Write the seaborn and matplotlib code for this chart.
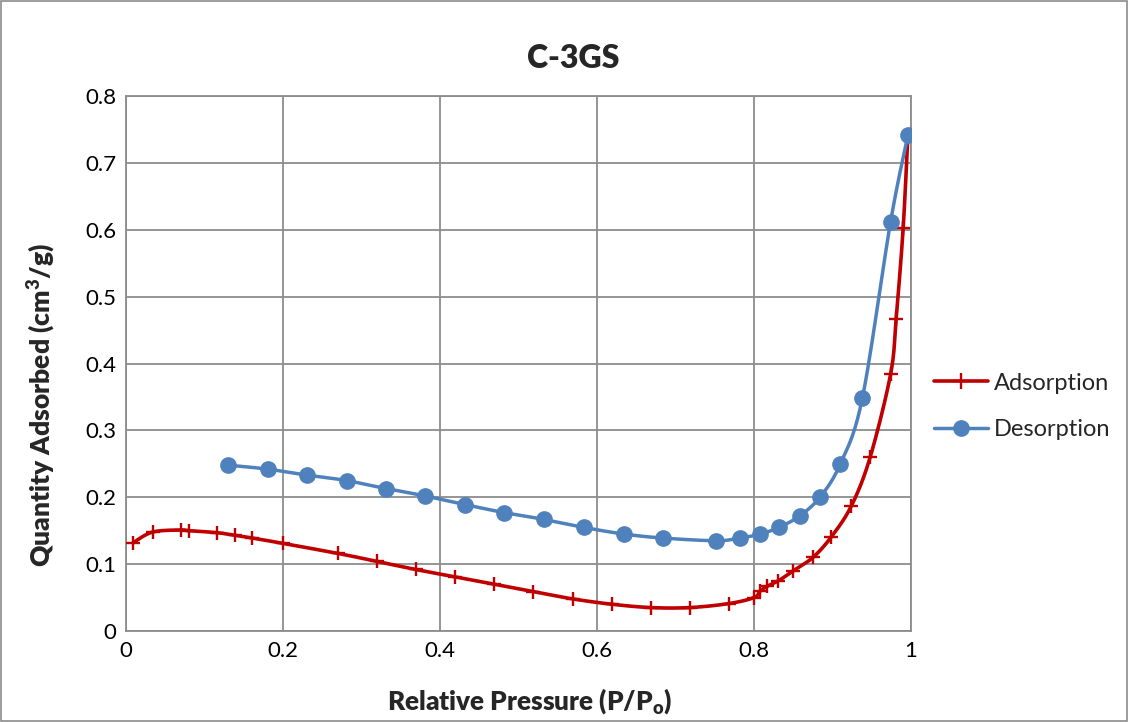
import numpy as np
import pandas as pd
import matplotlib
matplotlib.use('Agg')
import matplotlib.pyplot as plt
import seaborn as sns
from matplotlib.lines import Line2D
from matplotlib.patches import Rectangle

# ---- data ----
ads_p = [0.009, 0.034, 0.070, 0.080, 0.116, 0.139, 0.161, 0.200, 0.270, 0.320,
         0.369, 0.419, 0.469, 0.519, 0.569, 0.619, 0.669, 0.718, 0.768, 0.800,
         0.808, 0.817, 0.831, 0.850, 0.875, 0.898, 0.924, 0.948, 0.974, 0.981,
         0.990, 0.996]
ads_q = [0.132, 0.148, 0.151, 0.150, 0.147, 0.143, 0.139, 0.131, 0.116, 0.104,
         0.092, 0.081, 0.070, 0.059, 0.048, 0.040, 0.035, 0.035, 0.041, 0.050,
         0.060, 0.067, 0.075, 0.090, 0.110, 0.140, 0.187, 0.260, 0.384, 0.466,
         0.602, 0.741]

des_p = [0.996, 0.974, 0.938, 0.910, 0.884, 0.858, 0.832, 0.808, 0.782, 0.752,
         0.684, 0.634, 0.583, 0.532, 0.482, 0.432, 0.381, 0.331, 0.281, 0.231,
         0.181, 0.130]
des_q = [0.741, 0.612, 0.348, 0.250, 0.200, 0.172, 0.155, 0.145, 0.139, 0.135,
         0.139, 0.145, 0.155, 0.167, 0.177, 0.189, 0.202, 0.213, 0.225, 0.233,
         0.242, 0.248]

x_ticks = [0, 0.2, 0.4, 0.6, 0.8, 1]
x_labels = ['0', '0.2', '0.4', '0.6', '0.8', '1']
y_ticks = [0, 0.1, 0.2, 0.3, 0.4, 0.5, 0.6, 0.7, 0.8]
y_labels = ['0', '0.1', '0.2', '0.3', '0.4', '0.5', '0.6', '0.7', '0.8']

RED = '#C00000'
BLUE = '#4F81BD'
GRID = '#8C8C8C'


def smooth(x, y, n=20):
    # Catmull-Rom curve through the points (like Excel "smoothed line")
    p = np.column_stack([x, y]).astype(float)
    p = np.vstack([p[0], p, p[-1]])
    out = []
    t = np.linspace(0, 1, n, endpoint=False)[:, None]
    for i in range(1, len(p) - 2):
        p0, p1, p2, p3 = p[i - 1], p[i], p[i + 1], p[i + 2]
        seg = 0.5 * ((2 * p1) + (-p0 + p2) * t + (2 * p0 - 5 * p1 + 4 * p2 - p3) * t ** 2
                     + (-p0 + 3 * p1 - 3 * p2 + p3) * t ** 3)
        out.append(seg)
    out.append(p[-2][None, :])
    out = np.vstack(out)
    return pd.DataFrame({'p': out[:, 0], 'q': out[:, 1]})


sns.set_style('white')
plt.rcParams['font.family'] = ['Lato', 'DejaVu Sans']
plt.rcParams['mathtext.fontset'] = 'custom'
plt.rcParams['mathtext.rm'] = 'Lato:heavy'
plt.rcParams['mathtext.bf'] = 'Lato:heavy'

fig = plt.figure(figsize=(11.29, 7.22), dpi=100)
ax = fig.add_axes([126 / 1129, 91 / 722, 785 / 1129, 535 / 722])

sns.lineplot(data=smooth(ads_p, ads_q), x='p', y='q', sort=False, ax=ax,
             color=RED, linewidth=2.6, zorder=3)
ax.plot(ads_p, ads_q, linestyle='none', marker='+', markersize=10,
        markeredgewidth=1.7, color=RED, zorder=4)

sns.lineplot(data=smooth(des_p, des_q), x='p', y='q', sort=False, ax=ax,
             color=BLUE, linewidth=2.5, zorder=3)
ax.plot(des_p, des_q, linestyle='none', marker='o', markersize=11,
        color=BLUE, zorder=4)

ax.set_xlim(0, 1)
ax.set_ylim(0, 0.8)
ax.set_xticks(x_ticks)
ax.set_yticks(y_ticks)
ax.set_xticklabels(x_labels)
ax.set_yticklabels(y_labels)
ax.tick_params(length=0, labelsize=16, colors='black')
ax.tick_params(axis='y', pad=7)
ax.tick_params(axis='x', pad=7)
ax.grid(True, color=GRID, linewidth=1.3)
for s in ax.spines.values():
    s.set_color(GRID)
    s.set_linewidth(1.3)

ax.set_xlabel('Relative Pressure (P/P$_{\\mathrm{o}}$)', fontsize=18.8, fontweight='heavy',
              va='center')
ax.set_ylabel('Quantity Adsorbed (cm$^{\\mathrm{3}}$/g)', fontsize=19, fontweight='heavy',
              va='center')
ax.xaxis.set_label_coords(0.5146, -0.131)
ax.yaxis.set_label_coords(-0.1083, 0.4224)
fig.text(573 / 1129, 1 - 58 / 722, 'C-3GS', ha='center', va='center',
         fontsize=23, fontweight='heavy')

handles = [
    Line2D([], [], color=RED, linewidth=2.6, marker='+', markersize=11,
           markeredgewidth=1.7),
    Line2D([], [], color=BLUE, linewidth=2.5, marker='o', markersize=11),
]
fig.legend(handles, ['Adsorption', 'Desorption'], loc='center left',
           bbox_to_anchor=(934 / 1129, 1 - 406.5 / 722), frameon=False,
           fontsize=17, handlelength=2.3, handletextpad=0.25, labelspacing=1.1,
           borderpad=0, borderaxespad=0)

fig.patches.append(Rectangle((0.001, 0.001), 0.997, 0.997, transform=fig.transFigure,
                             fill=False, edgecolor='#8C8C8C', linewidth=1.2))

fig.savefig('out.png', dpi=100)
